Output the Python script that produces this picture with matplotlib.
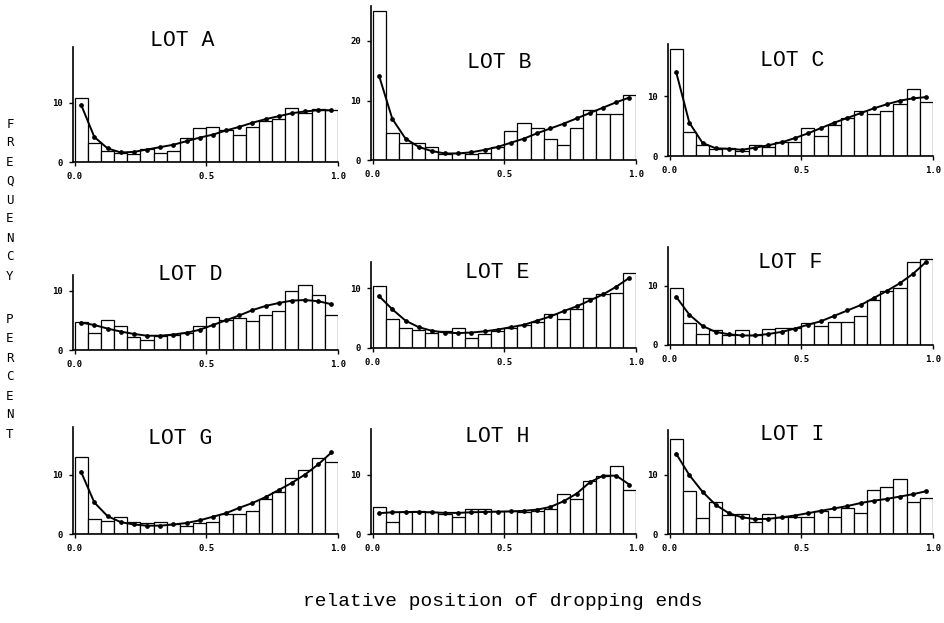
import numpy as np
import matplotlib
matplotlib.use("Agg")
import matplotlib.pyplot as plt

lots = ["A", "B", "C", "D", "E", "F", "G", "H", "I"]
bin_centers = [0.025 + 0.05 * i for i in range(20)]

bars_A = [10.7, 3.2, 1.9, 1.5, 1.4, 2.2, 1.5, 1.8, 4.0, 5.7, 5.9, 5.4, 4.6, 5.8, 6.9, 7.3, 9.1, 8.3, 8.9, 8.7]
curve_A = [9.6, 4.2, 2.3, 1.6, 1.7, 2.1, 2.5, 2.9, 3.5, 4.1, 4.6, 5.3, 5.9, 6.6, 7.2, 7.7, 8.2, 8.5, 8.7, 8.7]
bars_B = [25.0, 4.6, 2.8, 2.9, 2.2, 1.0, 1.2, 1.0, 1.2, 2.2, 4.9, 6.3, 5.4, 3.6, 2.6, 5.3, 8.4, 7.7, 7.7, 10.9]
curve_B = [14.1, 6.9, 3.6, 2.2, 1.5, 1.1, 1.1, 1.3, 1.7, 2.2, 2.9, 3.6, 4.5, 5.3, 6.1, 7.0, 7.9, 8.8, 9.7, 10.5]
bars_C = [17.9, 4.0, 1.9, 1.1, 1.4, 0.9, 1.9, 1.5, 2.4, 2.3, 4.7, 3.4, 5.2, 6.4, 7.5, 7.1, 7.6, 8.7, 11.2, 9.0]
curve_C = [14.1, 5.6, 2.2, 1.3, 1.2, 1.05, 1.4, 1.8, 2.3, 3.0, 3.8, 4.7, 5.6, 6.4, 7.2, 8.0, 8.7, 9.3, 9.7, 9.9]
bars_D = [4.7, 2.9, 5.1, 4.0, 2.2, 1.7, 2.4, 2.5, 2.8, 4.0, 5.6, 5.0, 5.3, 4.8, 5.9, 6.5, 9.9, 10.9, 9.2, 5.8]
curve_D = [4.6, 4.2, 3.6, 3.1, 2.7, 2.4, 2.4, 2.6, 2.9, 3.4, 4.2, 5.0, 5.8, 6.7, 7.4, 7.9, 8.3, 8.4, 8.2, 7.7]
bars_E = [10.4, 4.8, 3.4, 3.1, 2.6, 2.9, 3.4, 1.7, 2.4, 2.8, 3.4, 3.8, 4.3, 5.7, 4.8, 6.6, 8.4, 9.0, 9.3, 12.6]
curve_E = [8.7, 6.5, 4.6, 3.5, 2.9, 2.6, 2.5, 2.6, 2.8, 3.1, 3.5, 3.9, 4.6, 5.3, 6.2, 7.0, 8.0, 9.0, 10.3, 11.8]
bars_F = [9.6, 3.7, 1.8, 2.5, 1.7, 2.5, 1.6, 2.7, 2.9, 2.9, 3.7, 3.2, 3.8, 3.8, 4.9, 7.6, 9.0, 9.6, 14.0, 14.4]
curve_F = [8.1, 5.1, 3.2, 2.2, 1.8, 1.6, 1.6, 1.85, 2.2, 2.75, 3.4, 4.0, 4.9, 5.8, 6.7, 7.9, 9.1, 10.4, 12.0, 14.0]
bars_G = [12.9, 2.6, 2.2, 2.8, 2.0, 1.9, 2.0, 1.6, 1.3, 1.9, 2.0, 3.3, 3.4, 3.8, 5.8, 7.0, 9.4, 10.8, 12.8, 12.1]
curve_G = [10.4, 5.3, 3.0, 2.0, 1.6, 1.4, 1.4, 1.6, 1.85, 2.3, 2.9, 3.5, 4.4, 5.2, 6.2, 7.4, 8.6, 10.0, 11.7, 13.7]
bars_H = [4.5, 2.0, 3.7, 3.8, 3.65, 3.4, 2.8, 4.2, 4.2, 3.8, 3.9, 3.65, 3.8, 4.2, 6.8, 5.9, 8.9, 9.8, 11.4, 7.4]
curve_H = [3.5, 3.65, 3.7, 3.7, 3.65, 3.55, 3.55, 3.65, 3.7, 3.75, 3.8, 3.9, 4.1, 4.55, 5.5, 6.8, 8.7, 9.8, 9.8, 8.3]
bars_I = [16.0, 7.2, 2.7, 5.3, 3.2, 3.3, 2.1, 3.3, 2.9, 2.9, 2.8, 3.8, 2.8, 4.3, 3.5, 7.4, 7.9, 9.2, 5.3, 6.0]
curve_I = [13.5, 9.9, 7.1, 4.9, 3.5, 2.8, 2.5, 2.55, 2.8, 3.1, 3.5, 3.9, 4.3, 4.7, 5.2, 5.6, 5.9, 6.3, 6.7, 7.2]

bars = [bars_A, bars_B, bars_C, bars_D, bars_E, bars_F, bars_G, bars_H, bars_I]
curves = [curve_A, curve_B, curve_C, curve_D, curve_E, curve_F, curve_G, curve_H, curve_I]
y_tops = [19.3, 25.8, 18.8, 12.6, 14.5, 16.5, 17.9, 17.6, 17.5]
x_ticks = [0.0, 0.5, 1.0]
x_ticklabels = ["0.0", "0.5", "1.0"]

W, H = 945, 623
fig = plt.figure(figsize=(W / 100, H / 100), dpi=100)

col_x = [73, 371, 668]
zero_y = [[162, 160, 156], [350, 348, 345], [534, 534, 534]]
title_pos = [(182, 40), (499, 63), (792, 60),
             (190, 275), (497, 272), (790, 262),
             (180, 438), (497, 437), (792, 435)]
px_per_unit = 5.95
panel_w = 265

tick_font = dict(family="DejaVu Sans Mono", size=6.5, weight="bold")

for k, lot in enumerate(lots):
    r, c = divmod(k, 3)
    top = y_tops[k]
    h_px = top * px_per_unit
    left = col_x[c] / W
    bottom = 1 - zero_y[r][c] / H
    ax = fig.add_axes([left, bottom, panel_w / W, h_px / H])
    ax.bar(bin_centers, bars[k], width=0.05, color="white", edgecolor="black",
           linewidth=0.9, zorder=2)
    ax.plot(bin_centers, curves[k], color="black", linewidth=1.4, marker="o",
            markersize=2.4, zorder=3)
    ax.set_xlim(-0.006, 1.0)
    ax.set_ylim(0, top)
    for s in ["top", "right"]:
        ax.spines[s].set_visible(False)
    for s in ["left", "bottom"]:
        ax.spines[s].set_linewidth(1.2)
    ax.set_xticks(x_ticks)
    ax.set_xticklabels(x_ticklabels, fontdict=tick_font)
    yt = [v for v in (0, 10, 20) if v <= top]
    ax.set_yticks(yt)
    ax.set_yticklabels([str(v) for v in yt], fontdict=tick_font)
    ax.tick_params(axis="both", length=3, width=1.0, pad=4)
    tx, ty = title_pos[k]
    fig.text(tx / W, 1 - ty / H, "LOT " + lot, ha="center", va="center",
             family="Liberation Mono", fontsize=15.5)

# vertical stacked y label
label = "FREQUENCY"
for i, ch in enumerate(label):
    fig.text(10 / W, 1 - (124 + 19 * i) / H, ch, ha="center", va="center",
             family="DejaVu Sans Mono", fontsize=9)
label2 = "PERCENT"
for i, ch in enumerate(label2):
    fig.text(10 / W, 1 - (320 + 19 * i) / H, ch, ha="center", va="center",
             family="DejaVu Sans Mono", fontsize=9)

fig.text(503 / W, 1 - 602 / H, "relative position of dropping ends",
         ha="center", va="center", family="Liberation Mono", fontsize=14)

fig.savefig("out.png", dpi=100, facecolor="white")
